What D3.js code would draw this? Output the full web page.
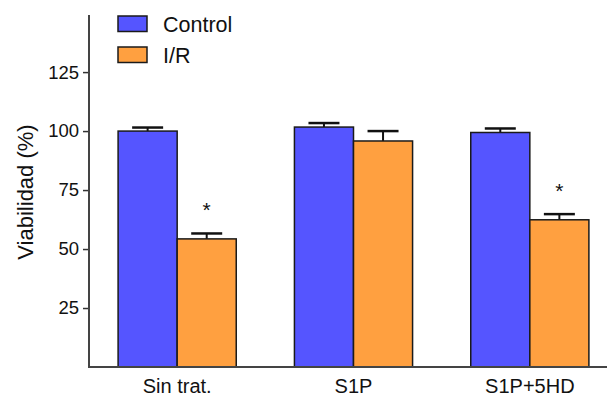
<!DOCTYPE html>
<html>
<head>
<meta charset="utf-8">
<script src="https://cdn.jsdelivr.net/npm/d3@7"></script>
<style>
  html, body { margin: 0; padding: 0; background: #fff; }
  svg { display: block; font-family: Arial, "Liberation Sans", Helvetica, sans-serif; }
</style>
</head>
<body>
<svg id="chart" width="607" height="396"></svg>
<script>
// Treatment groups and series
const categories = ["Sin trat.", "S1P", "S1P+5HD"];
const seriesNames = ["Control", "I/R"];
const controlValues = [100, 101.7, 99.4];
const controlErrors = [1.5, 1.7, 1.7];
const irValues = [54.3, 95.8, 62.4];
const irErrors = [2.3, 4.2, 2.4];
const significant = [true, false, true]; // I/R vs Control
const yTicks = [25, 50, 75, 100, 125];

const colors = { "Control": "#5555FF", "I/R": "#FFA040" };

const svg = d3.select("#chart");
const axisX = 89, plotBottom = 367, plotTop = 15;

const y = d3.scaleLinear().domain([0, 149.2]).range([plotBottom, plotTop]);
const x = d3.scaleBand().domain(categories).range([axisX, 618]).paddingInner(0.33).paddingOuter(0.165);
const xs = d3.scaleBand().domain(seriesNames).range([0, x.bandwidth()]);

const rows = categories.map((c, i) => ({
  cat: c,
  bars: [
    { s: "Control", v: controlValues[i], e: controlErrors[i] },
    { s: "I/R", v: irValues[i], e: irErrors[i] }
  ],
  sig: significant[i]
}));

// Bars with error caps
const g = svg.selectAll("g.grp").data(rows).join("g")
  .attr("class", "grp")
  .attr("transform", d => `translate(${x(d.cat)},0)`);

const capW = 31;
g.selectAll("g.err").data(d => d.bars).join("g").attr("class", "err")
  .each(function(b) {
    const cx = xs(b.s) + xs.bandwidth() / 2;
    const sel = d3.select(this);
    sel.append("line").attr("x1", cx).attr("x2", cx)
      .attr("y1", y(b.v)).attr("y2", y(b.v + b.e))
      .attr("stroke", "#111").attr("stroke-width", 2);
    sel.append("line").attr("x1", cx - capW / 2).attr("x2", cx + capW / 2)
      .attr("y1", y(b.v + b.e)).attr("y2", y(b.v + b.e))
      .attr("stroke", "#111").attr("stroke-width", 2.5);
  });

g.selectAll("rect").data(d => d.bars).join("rect")
  .attr("x", b => xs(b.s))
  .attr("y", b => y(b.v))
  .attr("width", xs.bandwidth())
  .attr("height", b => y(0) - y(b.v))
  .attr("fill", b => colors[b.s])
  .attr("stroke", "#1a1a1a")
  .attr("stroke-width", 1.5);

// Significance marks above I/R bars
g.filter(d => d.sig).append("text")
  .attr("x", xs("I/R") + xs.bandwidth() / 2)
  .attr("y", d => y(d.bars[1].v + d.bars[1].e) - 16)
  .attr("text-anchor", "middle")
  .attr("font-size", 21)
  .attr("fill", "#111")
  .text("*");

// Y axis
const yAxis = d3.axisLeft(y).tickValues(yTicks).tickSize(6).tickPadding(4).tickFormat(d3.format("d"));
const ya = svg.append("g").attr("transform", `translate(${axisX},0)`).call(yAxis);
ya.select(".domain").remove();
ya.selectAll(".tick line").attr("stroke", "#333").attr("stroke-width", 1.5);
ya.selectAll(".tick text").attr("font-size", 18.5).attr("fill", "#111")
  .attr("font-family", "Arial, 'Liberation Sans', sans-serif");
svg.append("line").attr("x1", axisX).attr("x2", axisX).attr("y1", plotTop).attr("y2", plotBottom + 1)
  .attr("stroke", "#444").attr("stroke-width", 2);

// X axis
svg.append("line").attr("x1", axisX - 1).attr("x2", 607).attr("y1", plotBottom).attr("y2", plotBottom)
  .attr("stroke", "#444").attr("stroke-width", 2);
const xAxis = d3.axisBottom(x).tickSize(0).tickPadding(10);
const xa = svg.append("g").attr("transform", `translate(0,${plotBottom})`).call(xAxis);
xa.select(".domain").remove();
xa.selectAll(".tick text").attr("font-size", 20).attr("fill", "#111")
  .attr("font-family", "Arial, 'Liberation Sans', sans-serif")
  .attr("dy", null).attr("y", 26);

// Y axis title
svg.append("text")
  .attr("transform", `translate(33,${192}) rotate(-90)`)
  .attr("text-anchor", "middle")
  .attr("font-size", 22)
  .attr("fill", "#111")
  .text("Viabilidad (%)");

// Legend
const legend = svg.append("g");
seriesNames.forEach((s, i) => {
  const ly = 16 + i * 31;
  legend.append("rect").attr("x", 118).attr("y", ly).attr("width", 29).attr("height", 15.5)
    .attr("fill", colors[s]).attr("stroke", "#1a1a1a").attr("stroke-width", 1.5);
  legend.append("text").attr("x", 163).attr("y", ly + 16)
    .attr("font-size", 21.5).attr("fill", "#111").text(s);
});
</script>
</body>
</html>
